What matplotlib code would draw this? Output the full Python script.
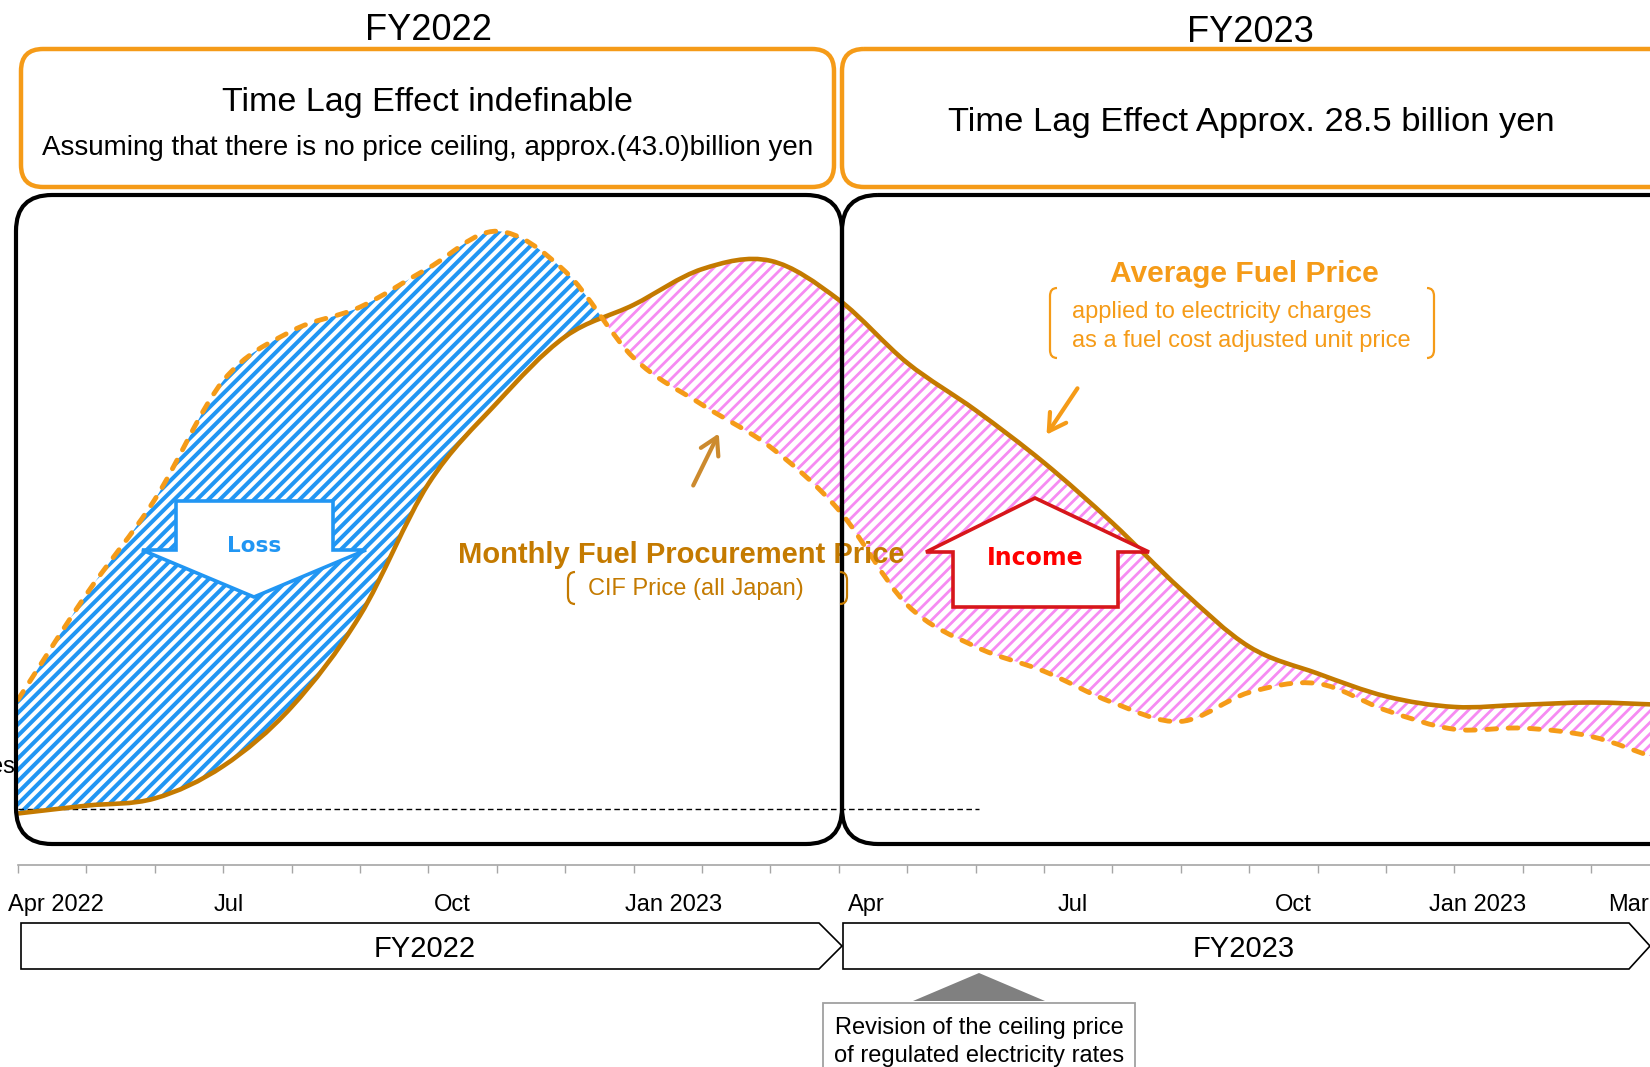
import numpy as np
import matplotlib
matplotlib.use("Agg")
import matplotlib.pyplot as plt
from matplotlib.path import Path
from matplotlib.patches import PathPatch, FancyBboxPatch, Rectangle, Polygon, FancyArrowPatch
from matplotlib.collections import LineCollection
from matplotlib.transforms import blended_transform_factory, Bbox, TransformedBbox

plt.rcParams['font.family'] = ['Liberation Sans', 'DejaVu Sans']

# month index: 0 = Apr 2022 ... 24 = Apr 2024
months = np.arange(25)
# price index (0 = dashed reference line)
avg_price = [-0.8, 0.6, 1.9, 7.7, 18.3, 34.7, 58.3, 72.8, 84.7, 90.4, 96.8, 98.3,
             91.3, 80.0, 71.5, 62.1, 51.3, 39.4, 29.1, 24.3, 20.2, 18.3, 18.7, 19.1, 18.7]
cif_price = [19.6, 38.5, 55.5, 76.8, 85.7, 90.0, 97.0, 103.6, 96.4, 80.9, 72.5, 64.9,
             53.6, 36.6, 29.1, 24.7, 19.1, 15.7, 20.9, 22.5, 17.7, 14.3, 14.5, 13.0, 8.9]

tick_months = np.arange(24)
tick_labels = ["Apr 2022", "Jul", "Oct", "Jan 2023", "Apr", "Jul", "Oct", "Jan 2023", "Mar"]
tick_label_pos = [0.56, 3.08, 6.35, 9.58, 12.4, 15.42, 18.64, 21.34, 23.55]

ORANGE = '#F59B18'
BROWN = '#C47A00'
BLUE = '#2196F3'
PINK = '#F68BF2'
RED = '#D7161B'


def smooth_path(x, y):
    # catmull-rom through the monthly points, as cubic bezier control points
    x = np.asarray(x, float)
    y = np.asarray(y, float)
    px = np.r_[2 * x[0] - x[1], x, 2 * x[-1] - x[-2]]
    py = np.r_[2 * y[0] - y[1], y, 2 * y[-1] - y[-2]]
    verts = [(x[0], y[0])]
    for i in range(1, len(px) - 2):
        verts.append((px[i] + (px[i + 1] - px[i - 1]) / 6, py[i] + (py[i + 1] - py[i - 1]) / 6))
        verts.append((px[i + 1] - (px[i + 2] - px[i]) / 6, py[i + 1] - (py[i + 2] - py[i]) / 6))
        verts.append((px[i + 1], py[i + 1]))
    return np.array(verts)


def bracket(axis, x, y0, y1, side, color, lw=1.6):
    d = 7 * side
    verts = [(x + d, y0), (x, y0), (x, y0 + 8), (x, y1 - 8), (x, y1), (x + d, y1)]
    codes = [Path.MOVETO, Path.CURVE3, Path.CURVE3, Path.LINETO, Path.CURVE3, Path.CURVE3]
    axis.add_patch(PathPatch(Path(verts, codes), fill=False, edgecolor=color, lw=lw, zorder=4))


fig = plt.figure(figsize=(16.5, 10.67), dpi=100)

# data axes: months on x, price index on y
ax = fig.add_axes([0, 0, 1, 1], zorder=1)
ax.set_xlim(-18 / 68.4, (1650 - 18) / 68.4)
ax.set_ylim(-(1067 - 809) / 5.577, 809 / 5.577)
ax.axis('off')

# layout axes in pixels
deco = fig.add_axes([0, 0, 1, 1], zorder=2)
deco.set_xlim(0, 1650)
deco.set_ylim(1067, 0)
deco.axis('off')

va = smooth_path(months, avg_price)
vc = smooth_path(months, cif_price)
curve_codes = [Path.MOVETO] + [Path.CURVE4] * (len(va) - 1)

# where the two curves cross
t = np.linspace(0, 1, 2001)
bern = np.stack([(1 - t) ** 3, 3 * t * (1 - t) ** 2, 3 * t ** 2 * (1 - t), t ** 3])
cross = 8.5
for k in range(len(months) - 1):
    d = (vc[3 * k:3 * k + 4, 1] - va[3 * k:3 * k + 4, 1]) @ bern
    s = np.where(np.sign(d[:-1]) != np.sign(d[1:]))[0]
    if len(s):
        cross = months[k] + t[s[0]]
        break

fill_verts = list(vc) + list(va[::-1]) + [vc[0]]
fill_codes = (curve_codes + [Path.LINETO] + [Path.CURVE4] * (len(va) - 1) + [Path.CLOSEPOLY])

# diagonal stripes, clipped to the area between the curves
offsets = np.arange(-1100, 1700, 11.4)
stripes = [[(c, 1067), (c + 1067, 0)] for c in offsets]
for color, width, x0, x1 in [(BLUE, 2.9, -2, cross), (PINK, 2.0, cross, 40)]:
    gap_area = PathPatch(Path(fill_verts, fill_codes), transform=ax.transData)
    lc = LineCollection(stripes, colors=color, linewidths=width, transform=deco.transData, zorder=1)
    ax.add_collection(lc, autolim=False)
    lc.set_clip_path(gap_area)
    lc.set_clip_box(TransformedBbox(Bbox.from_extents(x0, -200, x1, 300), ax.transData))

ax.add_patch(PathPatch(Path(va, curve_codes), fill=False, edgecolor=BROWN, lw=3.3, zorder=3))
ax.add_patch(PathPatch(Path(vc, curve_codes), fill=False, edgecolor=ORANGE, lw=3.5,
                       linestyle=(0, (2.0, 2.4)), capstyle='round', zorder=3))
ax.plot([0, 14.05], [0, 0], color='black', lw=1.0, linestyle=(0, (4, 2.5)), zorder=2)

# month ticks
tax = fig.add_axes([0, (1067 - 875) / 1067, 1, 10 / 1067], zorder=2)
tax.set_xlim(ax.get_xlim())
tax.patch.set_visible(False)
for side in ['left', 'right', 'bottom']:
    tax.spines[side].set_visible(False)
tax.spines['top'].set_color('#A6A6A6')
tax.spines['top'].set_linewidth(1.2)
tax.spines['top'].set_bounds(0, 24)
tax.xaxis.set_ticks_position('top')
tax.set_xticks(tick_months)
tax.tick_params(axis='x', direction='in', length=6, width=1.0, color='#A6A6A6',
                labeltop=False, labelbottom=False)
tax.set_yticks([])

lab_tr = blended_transform_factory(ax.transData, deco.transData)
for pos, lab in zip(tick_label_pos, tick_labels):
    ax.text(pos, 905, lab, transform=lab_tr, ha='center', va='center', fontsize=17, zorder=5)

# headers
deco.text(429, 30, "FY2022", ha='center', va='center', fontsize=26)
deco.text(1250, 33, "FY2023", ha='center', va='center', fontsize=26)
deco.add_patch(FancyBboxPatch((21, 49), 813, 138, boxstyle="round,pad=0,rounding_size=22",
                              fill=False, edgecolor=ORANGE, lw=3.2))
deco.add_patch(FancyBboxPatch((842, 49), 860, 138, boxstyle="round,pad=0,rounding_size=22",
                              fill=False, edgecolor=ORANGE, lw=3.2))
deco.text(428, 103, "Time Lag Effect indefinable", ha='center', va='center', fontsize=24.5)
deco.text(428, 148, "Assuming that there is no price ceiling, approx.(43.0)billion yen",
          ha='center', va='center', fontsize=20)
deco.text(1251, 123, "Time Lag Effect Approx. 28.5 billion yen", ha='center', va='center',
          fontsize=24.8)

# chart frames
deco.add_patch(FancyBboxPatch((16, 195), 826, 649, boxstyle="round,pad=0,rounding_size=36",
                              fill=False, edgecolor='black', lw=3.0, zorder=3))
deco.add_patch(FancyBboxPatch((842, 195), 880, 649, boxstyle="round,pad=0,rounding_size=36",
                              fill=False, edgecolor='black', lw=3.0, zorder=3))
deco.text(15, 767, "es", ha='right', va='center', fontsize=17)

# loss / income arrows
deco.add_patch(Polygon([(176, 501), (333, 501), (333, 550), (366, 550), (254, 597),
                        (142, 550), (176, 550)], closed=True, facecolor='white',
                       edgecolor=BLUE, lw=2.6, zorder=2))
deco.text(254, 546, "Loss", ha='center', va='center', fontsize=15.5, fontweight='bold',
          color=BLUE, family='DejaVu Sans', zorder=3)
deco.add_patch(Polygon([(953, 607), (1118, 607), (1118, 552), (1149, 552), (1035, 498),
                        (926, 552), (953, 552)], closed=True, facecolor='white',
                       edgecolor=RED, lw=2.6, zorder=2))
deco.text(1035, 558, "Income", ha='center', va='center', fontsize=17, fontweight='bold',
          color='#FF0000', family='DejaVu Sans', zorder=3)

# curve labels
deco.text(681, 555, "Monthly Fuel Procurement Price", ha='center', va='center', fontsize=21,
          fontweight='bold', color=BROWN, zorder=2)
deco.text(696, 589, "CIF Price (all Japan)", ha='center', va='center', fontsize=17,
          color=BROWN, zorder=2)
bracket(deco, 568, 572, 604, 1, BROWN)
bracket(deco, 847, 572, 604, -1, BROWN)
deco.add_patch(FancyArrowPatch((692, 488), (720, 431), arrowstyle='->,head_length=0.6,head_width=0.35',
                               mutation_scale=20, color='#CC8A2E', lw=3.0, zorder=4))

deco.text(1244, 274, "Average Fuel Price", ha='center', va='center', fontsize=21.6,
          fontweight='bold', color=ORANGE)
deco.text(1072, 312, "applied to electricity charges", ha='left', va='center', fontsize=17,
          color=ORANGE)
deco.text(1072, 341, "as a fuel cost adjusted unit price", ha='left', va='center', fontsize=17,
          color=ORANGE)
bracket(deco, 1050, 288, 358, 1, ORANGE)
bracket(deco, 1434, 288, 358, -1, ORANGE)
deco.add_patch(FancyArrowPatch((1079, 386), (1045, 437), arrowstyle='->,head_length=0.6,head_width=0.35',
                               mutation_scale=20, color=ORANGE, lw=3.0, zorder=4))

# fiscal year bands
deco.add_patch(Polygon([(21, 923), (819, 923), (842, 946), (819, 969), (21, 969)],
                       closed=True, facecolor='white', edgecolor='black', lw=1.2))
deco.add_patch(Polygon([(843, 923), (1629, 923), (1650, 946), (1629, 969), (843, 969)],
                       closed=True, facecolor='white', edgecolor='black', lw=1.2))
deco.text(425, 949, "FY2022", ha='center', va='center', fontsize=21)
deco.text(1244, 949, "FY2023", ha='center', va='center', fontsize=21)

# ceiling price note
deco.add_patch(Polygon([(913, 1001), (1045, 1001), (979, 973)], closed=True,
                       facecolor='#808080', edgecolor='none'))
deco.add_patch(Rectangle((823, 1003), 312, 80, facecolor='white', edgecolor='#A0A0A0', lw=1.3))
deco.text(979, 1028, "Revision of the ceiling price", ha='center', va='center', fontsize=17)
deco.text(979, 1056, "of regulated electricity rates", ha='center', va='center', fontsize=17)

fig.savefig("out.png", dpi=100)
